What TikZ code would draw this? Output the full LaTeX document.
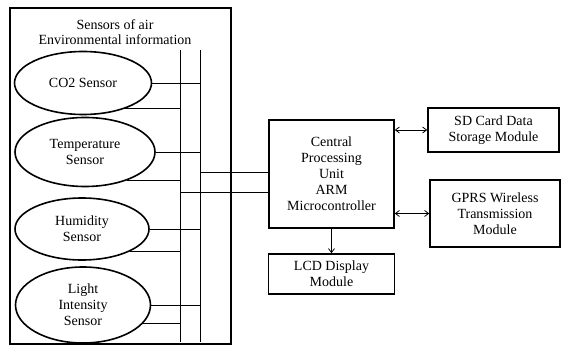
\documentclass[tikz,border=0pt]{standalone}
\usepackage{fontspec}
\setmainfont{Liberation Serif}
\usetikzlibrary{shapes.geometric,arrows.meta}

\begin{document}
\begin{tikzpicture}[x=1pt,y=-1pt,
  every node/.style={font=\fontsize{14}{16}\selectfont, align=center, inner sep=0pt},
  frame/.style={draw, line width=1.8pt},
  sensor/.style={ellipse, draw, line width=1.6pt},
  unitbox/.style={draw, line width=1.6pt},
  wire/.style={line width=0.8pt},
  busline/.style={line width=0.9pt},
  link/.style={line width=0.8pt, {Straight Barb[length=4pt,width=6pt]}-{Straight Barb[length=4pt,width=6pt]}},
  feed/.style={line width=0.8pt, -{Straight Barb[length=4pt,width=6pt]}}
]
\useasboundingbox (0,0) rectangle (561,347);

% sensor group frame
\node[frame, minimum width=221pt, minimum height=336pt] (group) at (120.5,176) {};
\node[font=\fontsize{14}{15}\selectfont] (title) at (115,32) {Sensors of air\\Environmental information};

% sensors
\node[sensor, minimum width=137pt, minimum height=63pt] (co2) at (83,83) {CO2 Sensor};
\node[sensor, minimum width=140pt, minimum height=69pt] (temp) at (85,152) {Temperature\\Sensor};
\node[sensor, minimum width=134pt, minimum height=62pt] (hum) at (82,229) {Humidity\\Sensor};
\node[sensor, minimum width=135pt, minimum height=76pt] (light) at (83,305) {Light\\Intensity\\Sensor};

% two-wire bus
\coordinate (busLtop) at (180,50);
\coordinate (busLbot) at (180,342);
\coordinate (busRtop) at (200,50);
\coordinate (busRbot) at (200,342);
\draw[busline] (busLtop) -- (busLbot);
\draw[busline] (busRtop) -- (busRbot);

% sensor taps onto the bus
\draw[wire] (co2.east) -- (co2.east -| busRtop);
\draw[wire] (co2.-31) -- (co2.-31 -| busLtop);
\draw[wire] (temp.east) -- (temp.east -| busRtop);
\draw[wire] (temp.-34) -- (temp.-34 -| busLtop);
\draw[wire] (hum.east) -- (hum.east -| busRtop);
\draw[wire] (hum.-25) -- (hum.-25 -| busLtop);
\draw[wire] (light.east) -- (light.east -| busRtop);
\draw[wire] (light.-17) -- (light.-17 -| busLtop);

% processing and peripheral units
\node[unitbox, minimum width=125pt, minimum height=108pt] (cpu) at (331.5,174)
  {Central\\Processing\\Unit\\ARM\\Microcontroller};
\node[unitbox, minimum width=126pt, minimum height=40pt] (lcd) at (331.5,274) {LCD Display\\Module};
\node[unitbox, minimum width=131pt, minimum height=44pt] (sd) at (493.5,130) {SD Card Data\\Storage Module};
\node[unitbox, minimum width=130pt, minimum height=67pt] (gprs) at (495,213.5) {GPRS Wireless\\Transmission\\Module};

% bus into the CPU
\coordinate (cpuin1) at (269,172);
\coordinate (cpuin2) at (269,192);
\draw[wire] (cpuin1 -| busRtop) -- (cpuin1);
\draw[wire] (cpuin2 -| busLtop) -- (cpuin2);

% CPU to peripherals
\draw[link] (sd.west -| cpu.east) -- (sd.west);
\draw[link] (gprs.west -| cpu.east) -- (gprs.west);
\draw[feed] (cpu.south) -- (lcd.north);
\end{tikzpicture}
\end{document}
